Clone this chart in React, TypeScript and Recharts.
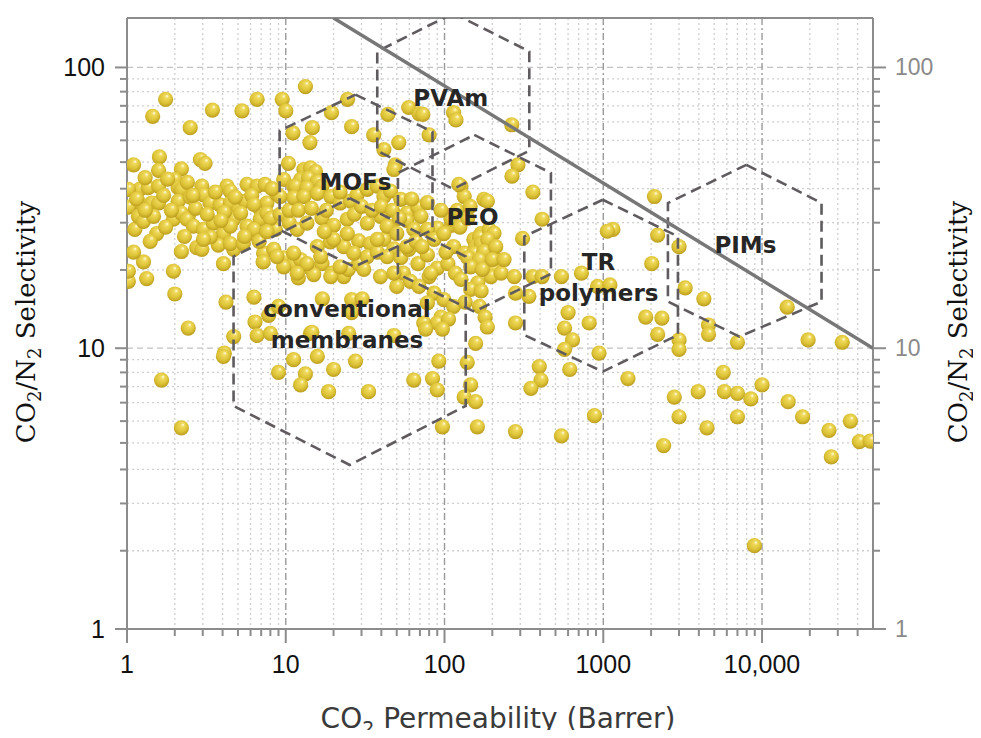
import { ScatterChart, Scatter, XAxis, YAxis, CartesianGrid, ReferenceLine } from "recharts"

// axis ticks
const xMajorTicks = [1, 10, 100, 1000, 10000]
const xMinorTicks = [2, 3, 4, 5, 6, 7, 8, 9, 20, 30, 40, 50, 60, 70, 80, 90, 200, 300, 400, 500, 600, 700, 800, 900,
  2000, 3000, 4000, 5000, 6000, 7000, 8000, 9000, 20000, 30000, 40000]
const yMajorTicks = [1, 10, 100]
const yMinorTicks = [1.9, 2.8, 3.7, 4.6, 5.5, 6.4, 7.3, 8.2, 9.1, 19, 28, 37, 46, 55, 64, 73, 82, 91]

// membrane data points: [CO2 permeability (Barrer), CO2/N2 selectivity]
const upperPoints: [number, number][] = [
  [1.75, 77], [1.45, 67], [2.5, 61], [3.45, 70.5], [5.3, 70], [6.6, 77], [9.5, 77], [10, 70], [11.1, 58.5],
  [13.3, 85.5], [14.7, 61], [14.2, 54], [19.4, 69], [24.5, 77], [26, 61.5], [35.8, 57.5], [44, 68], [51.5, 54],
  [59.5, 72], [69, 68.5], [73, 68], [80, 57.5], [41.5, 51], [49, 45], [114, 69], [118, 65], [265, 62.5], [290, 45],
  [1.1, 45], [1.6, 48], [1.58, 43], [2.2, 43.5], [2.9, 47], [3.1, 45.5], [10.4, 45.5], [13, 43.3], [14.3, 43.9],
  [15.4, 42.6], [48, 43.3],
]

const bandLeft: [number, number][] = [
  [1.2, 36.8], [1.36, 37.3], [1.58, 37.8], [2.0, 39.9], [2.1, 37.3], [2.2, 36.8], [2.96, 37.8], [3.03, 35.2],
  [4.26, 37.8], [4.47, 36.3], [5.7, 38.3], [6.6, 37.8], [7.4, 38.3], [1.2, 32.9], [1.43, 32.9], [1.58, 32.9],
  [2.1, 33.4], [2.43, 29.5], [3.34, 32.9], [3.86, 32.4], [4.47, 32.9], [5.05, 31.2], [5.55, 33.4], [6.9, 31.2],
  [7.6, 32.9], [8.8, 35.4], [1.02, 36.8], [1.02, 31.8], [9.2, 34.7], [9.7, 39.9], [11.2, 37.8],
  [1.12, 26.5], [1.18, 29.5], [1.27, 28.3], [1.47, 29.5], [1.54, 25.6], [1.96, 28.8], [2.2, 30.3], [2.38, 28.8],
  [2.62, 27.2], [3.03, 26.5], [3.5, 27.9], [4.05, 25.6], [4.69, 28.8], [5.2, 30.3], [5.7, 27.2], [6.3, 25.6],
  [6.9, 28.8], [7.6, 30.3], [8.6, 26.5], [2.75, 22.8], [3.76, 23.3], [4.7, 22.5], [7.25, 21.8], [2.2, 22.1],
  [2.96, 22.5], [3.34, 24.9], [1.27, 20.3], [1.33, 17.7], [1.96, 18.8], [2.0, 15.6], [2.43, 11.8], [1.02, 17.3],
  [1.02, 18.8], [4.2, 14.6], [4.7, 11], [4.1, 9.6], [6.3, 15.2], [6.4, 12.4], [6.6, 11.1], [4.05, 20], [4.47, 23.6],
  [7.2, 20.3], [8.4, 22.5], [9.7, 21], [11.2, 20], [3.03, 24.4], [4.47, 27.2], [6.3, 26.5], [5.4, 23.6], [7.8, 13.1],
  [9.0, 14.1], [1.3, 40.5], [1.7, 35], [2.5, 34.5], [3.6, 36], [6.1, 35], [8.2, 37], [1.9, 31], [2.7, 31.5],
  [4.1, 30.5], [6.3, 32.5], [8.0, 29], [1.1, 22], [1.15, 34], [1.3, 31], [1.4, 24], [1.75, 27], [1.8, 40],
  [2.3, 25], [2.4, 39], [2.6, 35], [3.2, 30], [3.9, 28.5], [4.8, 34.5], [5.5, 25], [6.8, 24], [7.6, 26],
  [9.2, 30], [10.5, 28], [10.5, 31],
]

const bandMid: [number, number][] = [
  [12.4, 39.9], [13.9, 40.4], [15.8, 39.2], [11.5, 37.8], [13.6, 37.3], [16.9, 37.8], [11.2, 34.4], [13, 34.7],
  [15.8, 35.6], [19.2, 34.7], [22, 32.9], [25.6, 33.4], [28.1, 35.2], [32.6, 36.8], [37.7, 37.8], [41.5, 34.7],
  [45.7, 36.3], [53, 33.9], [58, 30.3], [68, 31.8], [71, 29.5], [78, 33], [90, 26.8], [110, 27.4], [11.8, 26.5],
  [13.6, 27.9], [16.9, 29.1], [20, 27.4], [24.4, 28.8], [32.6, 27.9], [39.5, 29.5], [45.7, 27.1], [58, 28.5],
  [28.8, 24.1], [34, 23.6], [41.5, 24.4], [48, 22.6], [19.1, 23.9], [23.2, 23], [15.8, 23], [12.4, 20.7],
  [14.3, 19.3], [16.9, 20], [19.6, 18.5], [23.2, 18], [24.8, 19.1], [28.8, 20], [32.6, 21.2], [37.7, 22],
  [43.5, 21.2], [53, 21], [59.5, 22.5], [68, 20], [78, 21.5], [90, 19.3], [105, 20], [117, 18.5], [80, 18],
  [55, 18.5], [61, 17.3], [69, 16.6], [50, 16.6], [86, 15.7], [99, 14.9], [114, 14.1], [95, 12.9], [90, 12.3],
  [106, 12.7], [78, 14.5], [12, 17.8], [15, 18.3], [19.2, 18], [26, 14.9], [26, 13.4], [14.3, 11.3], [30.3, 15],
  [78, 26.5], [86, 24.4], [99, 25.6], [110, 28.8], [114, 23], [37.7, 24.4], [43.5, 27.2], [50, 25.6], [58, 23],
  [64, 26.5], [20, 24.4], [24.4, 25.6], [26.8, 21.8], [22, 19.5], [16.6, 21.2], [13.6, 20], [11.2, 21.8],
  [11.8, 18.5], [9.7, 19.5], [8.8, 21.2], [31, 19.1], [39.5, 18], [48, 18.5], [82, 18.5], [74, 12.3], [97, 11.7],
  [17, 15], [8, 11.3], [14.6, 11.4], [24.9, 11.3], [48, 11.1], [76, 11.7], [12, 31], [14.5, 31.5], [18, 31],
  [17.5, 26], [22, 36], [27, 30], [30, 32], [35, 31], [40, 32], [47, 31], [52, 29], [62, 34], [66, 24], [72, 23],
  [95, 31], [102, 22], [120, 31],
]

const bandRight: [number, number][] = [
  [127, 37.8], [133, 34.7], [177, 33.9], [133, 21.8], [153, 24.4], [170, 25.6], [186, 23], [203, 21.2],
  [153, 20.7], [177, 19.5], [203, 19.1], [127, 17.6], [162, 17.1], [196, 18], [166, 24.9], [191, 26.5],
  [205, 25.7], [157, 23], [170, 23.6], [187, 24.4], [153, 21.8], [177, 22.1], [140, 21], [166, 20.7], [146, 19.5],
  [173, 19.1], [227, 18.5], [146, 16.2], [170, 16], [135, 14.6], [166, 14.1], [180, 12.9], [186, 11.9],
  [157, 10.4], [210, 23], [200, 20.7], [275, 18], [237, 20.7], [186, 33.4], [123, 38.3], [266, 41], [360, 36],
  [412, 28.8], [310, 24.6], [360, 18], [412, 18], [545, 18], [728, 18.5], [920, 16.6], [1100, 16.8], [1150, 26.5],
  [1060, 26.1], [2100, 34.7], [2200, 25.3], [2020, 20], [3000, 23], [3280, 16.4], [4300, 15], [14400, 14],
  [19500, 10.7], [32000, 10.5], [7000, 10.5], [4600, 12.1], [4600, 11.2], [3000, 10.7], [2200, 11.2],
  [1850, 12.9], [2340, 12.8], [600, 13.4], [570, 11.8], [640, 10.7], [815, 12.3], [280, 15.7], [340, 15.3],
  [280, 12.3], [125, 27], [140, 29], [145, 32],
]

const lowPoints: [number, number][] = [
  [3000, 9.9], [940, 9.6], [570, 9.9], [395, 8.6], [405, 7.7], [350, 7.2], [615, 8.4], [1430, 7.8], [880, 5.75],
  [280, 5.05], [545, 4.87], [2800, 6.7], [3000, 5.7], [2400, 4.5], [3960, 7], [4500, 5.2], [5700, 8.2], [5800, 7],
  [7000, 6.9], [8500, 6.6], [10000, 7.4], [7000, 5.7], [8950, 1.98], [14600, 6.45], [18000, 5.7], [26400, 5.1],
  [27300, 4.1], [36000, 5.5], [41000, 4.65], [48000, 4.67], [1.65, 7.7], [2.2, 5.2], [4.05, 9.35], [9, 8.2],
  [11.2, 9.1], [13.3, 8.1], [12.4, 7.4], [15.8, 9.35], [20, 8.4], [18.6, 7], [27.5, 9], [33.2, 7], [64, 7.7],
  [84, 7.8], [90, 7.1], [92, 9], [97, 5.25], [139, 8.9], [146, 7.4], [133, 6.7], [157, 6.45], [161, 5.25],
]

// hexagon regions, vertices in (permeability, selectivity), closed
const pvamHex: [number, number][] = [[113.5, 156], [342, 114], [342, 50.5], [113.5, 36.9], [37.7, 50.5], [37.7, 114], [113.5, 156]]
const mofsHex: [number, number][] = [[27.5, 80], [84, 59], [84, 26.4], [27, 19.5], [9.15, 26.4], [9.15, 59.5], [27.5, 80]]
const peoHex: [number, number][] = [[154, 57.5], [468, 42.1], [468, 18.4], [154, 13.5], [50.9, 18.4], [50.9, 42.1], [154, 57.5]]
const conventionalHex: [number, number][] = [[25.3, 34.2], [136, 21.2], [136, 6.23], [25.3, 3.84], [4.69, 6.23], [4.69, 21.2], [25.3, 34.2]]
const trHex: [number, number][] = [[993, 33.8], [2953, 25], [2953, 11.15], [993, 8.25], [318, 11.15], [318, 25], [993, 33.8]]
const pimsHex: [number, number][] = [[7970, 45], [23700, 32.9], [23700, 14.66], [7200, 11], [2554, 14.66], [2554, 32.9], [7970, 45]]

// 2008 upper bound
const upperBound: [number, number][] = [[20, 150], [50000, 10]]

const regionLabels = [
  { p: 109.5, s: 77.8, lines: ["PVAm"] },
  { p: 27.5, s: 39.2, lines: ["MOFs"] },
  { p: 150, s: 29.4, lines: ["PEO"] },
  { p: 24.3, s: 12.1, lines: ["conventional", "membranes"] },
  { p: 934, s: 17.9, lines: ["TR", "polymers"] },
  { p: 7855, s: 23.3, lines: ["PIMs"] },
]

const toPts = (arr: [number, number][]) => arr.map(([p, s]) => ({ p, s }))
const allPoints = toPts([...upperPoints, ...bandLeft, ...bandMid, ...bandRight, ...lowPoints])
const hexes = [pvamHex, mofsHex, peoHex, conventionalHex, trHex, pimsHex]

const AXIS = "#8c8c8c"
const fmt = (v: number) => (v === 10000 ? "10,000" : String(v))

const Ball = (props: any) => <circle cx={props.cx} cy={props.cy} r={7.6} fill="url(#ballGrad)" />
const NoShape = () => <g />

const RegionLabel = (props: any) => {
  const { cx, cy, payload } = props
  const lines: string[] = payload.lines
  const lh = 31
  const start = cy - ((lines.length - 1) * lh) / 2 + 8
  return (
    <text textAnchor="middle" fontFamily="DejaVu Sans" fontWeight="bold" fontSize={23} fill="#262626">
      {lines.map((l, i) => (
        <tspan key={i} x={cx} y={start + i * lh}>{l}</tspan>
      ))}
    </text>
  )
}

const LeftTick = (props: any) => {
  const { x, y, payload } = props
  const major = yMajorTicks.includes(payload.value)
  const len = major ? 12 : 7
  return (
    <g>
      <line x1={x - len} x2={x} y1={y} y2={y} stroke={AXIS} strokeWidth={2} />
      {major && (
        <text x={x - 22} y={y + 9} textAnchor="end" fontFamily="Liberation Sans" fontSize={25} fill="#111">
          {fmt(payload.value)}
        </text>
      )}
    </g>
  )
}

const RightTick = (props: any) => {
  const { x, y, payload } = props
  const major = yMajorTicks.includes(payload.value)
  const len = major ? 13 : 7
  return (
    <g>
      <line x1={x} x2={x + len} y1={y} y2={y} stroke={AXIS} strokeWidth={2} />
      {major && (
        <text x={x + 22} y={y + 8} textAnchor="start" fontFamily="Liberation Sans" fontSize={23} fill="#8a8a8a">
          {fmt(payload.value)}
        </text>
      )}
    </g>
  )
}

const BottomTick = (props: any) => {
  const { x, y, payload } = props
  const major = xMajorTicks.includes(payload.value)
  const len = major ? 14 : 7
  return (
    <g>
      <line x1={x} x2={x} y1={y} y2={y + len} stroke={AXIS} strokeWidth={2} />
      {major && (
        <text x={x} y={y + 44} textAnchor="middle" fontFamily="Liberation Sans" fontSize={25} fill="#111">
          {fmt(payload.value)}
        </text>
      )}
    </g>
  )
}

const xTicks = [...xMajorTicks, ...xMinorTicks].sort((a, b) => a - b)
const yTicks = [...yMajorTicks, ...yMinorTicks].sort((a, b) => a - b)

export default function App() {
  return (
    <div style={{ position: "relative", width: 965, height: 722 }}>
      <svg width={0} height={0} style={{ position: "absolute" }}>
        <defs>
          <radialGradient id="ballGrad" cx="45%" cy="42%" r="60%" fx="62%" fy="28%">
            <stop offset="0%" stopColor="#fffbe6" />
            <stop offset="22%" stopColor="#efd95a" />
            <stop offset="65%" stopColor="#dcc236" />
            <stop offset="100%" stopColor="#b8991a" />
          </radialGradient>
        </defs>
      </svg>
      <ScatterChart width={965} height={722} margin={{ top: 10, right: 0, bottom: 0, left: 0 }}>
        <CartesianGrid yAxisId="left" horizontalValues={yMinorTicks} vertical={false} stroke="#cfcfcf" strokeDasharray="2 3" strokeWidth={1.3} />
        <CartesianGrid yAxisId="left" horizontalValues={[10, 100]} vertical={false} stroke="#c2c2c2" strokeDasharray="6 4" strokeWidth={1.3} />
        <CartesianGrid yAxisId="left" verticalValues={xMinorTicks} horizontal={false} stroke="#cfcfcf" strokeDasharray="2 3" strokeWidth={1.3} />
        <CartesianGrid yAxisId="left" verticalValues={[10, 100, 1000, 10000]} horizontal={false} stroke="#9a9a9a" strokeDasharray="7 3 2 3" strokeWidth={1.4} />
        <XAxis
          dataKey="p"
          type="number"
          scale="log"
          domain={[1, 50000]}
          allowDataOverflow
          ticks={xTicks}
          interval={0}
          height={101}
          tickSize={0}
          tickMargin={0}
          tickLine={false}
          tick={<BottomTick />}
          axisLine={{ stroke: AXIS, strokeWidth: 2 }}
        />
        <YAxis
          yAxisId="left"
          dataKey="s"
          type="number"
          scale="log"
          domain={[1, 150]}
          allowDataOverflow
          ticks={yTicks}
          interval={0}
          width={119}
          tickSize={0}
          tickMargin={0}
          tickLine={false}
          tick={<LeftTick />}
          axisLine={{ stroke: AXIS, strokeWidth: 2 }}
        />
        <YAxis
          yAxisId="right"
          orientation="right"
          type="number"
          scale="log"
          domain={[1, 150]}
          allowDataOverflow
          ticks={yTicks}
          interval={0}
          width={100}
          tickSize={0}
          tickMargin={0}
          tickLine={false}
          tick={<RightTick />}
          axisLine={{ stroke: AXIS, strokeWidth: 2 }}
        />
        <ReferenceLine yAxisId="left" y={150} stroke={AXIS} strokeWidth={2} />
        <Scatter yAxisId="left" data={allPoints} shape={<Ball />} isAnimationActive={false} />
        {hexes.map((h, i) => (
          <Scatter
            key={i}
            yAxisId="left"
            data={toPts(h)}
            line={{ stroke: "#5f5b5f", strokeWidth: 2.6, strokeDasharray: "11 6" }}
            lineType="joint"
            shape={<NoShape />}
            isAnimationActive={false}
          />
        ))}
        <Scatter
          yAxisId="left"
          data={toPts(upperBound)}
          line={{ stroke: "#777777", strokeWidth: 3.5 }}
          lineType="joint"
          shape={<NoShape />}
          isAnimationActive={false}
        />
        <Scatter yAxisId="left" data={regionLabels} shape={<RegionLabel />} isAnimationActive={false} />
      </ScatterChart>
      <svg width={965} height={738} style={{ position: "absolute", left: 0, top: 0, pointerEvents: "none", overflow: "visible" }}>
        <text x={490} y={720} textAnchor="middle" fontFamily="DejaVu Sans" fontSize={28} fill="#3a3a3a">
          CO<tspan dy={7} fontSize={19}>2</tspan>
          <tspan dy={-7}> Permeability (Barrer)</tspan>
        </text>
        {[27, 959].map((tx) => (
          <text key={tx} x={tx} y={314} transform={`rotate(-90 ${tx} 314)`} textAnchor="middle" fontFamily="DejaVu Serif" fontSize={26} fill="#111">
            CO<tspan dy={6} fontSize={18}>2</tspan>
            <tspan dy={-6}>/N</tspan>
            <tspan dy={6} fontSize={18}>2</tspan>
            <tspan dy={-6}> Selectivity</tspan>
          </text>
        ))}
      </svg>
    </div>
  )
}
